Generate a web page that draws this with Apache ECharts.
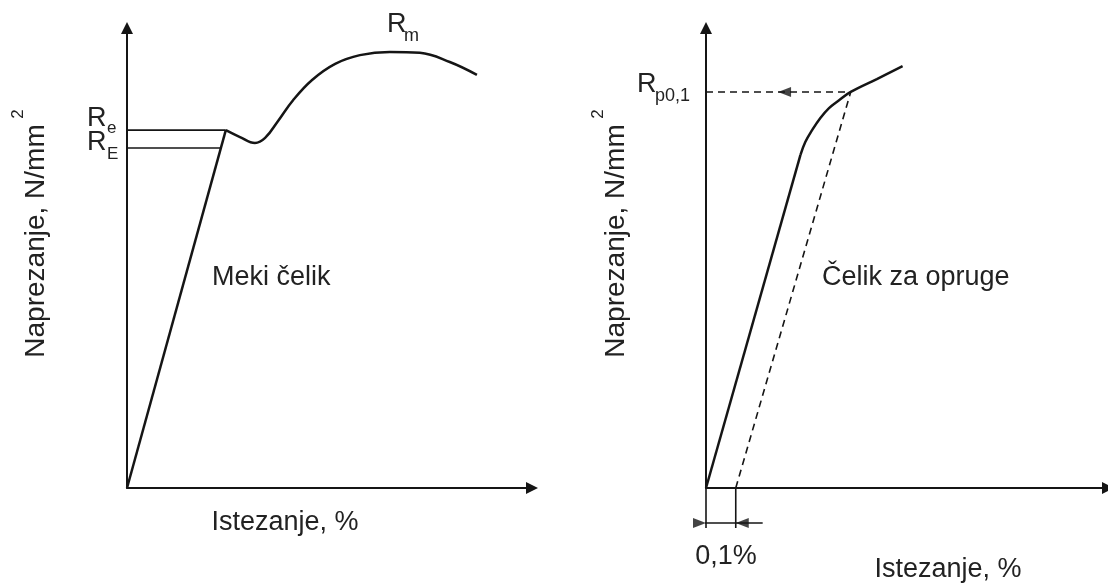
<!DOCTYPE html>
<html>
<head>
<meta charset="utf-8">
<script src="https://cdn.jsdelivr.net/npm/echarts@6/dist/echarts.min.js"></script>
<style>
html,body{margin:0;padding:0;background:#fff;}
#chart{width:1108px;height:588px;}
</style>
</head>
<body>
<div id="chart"></div>
<script>
// ---- Data (arbitrary units: strain 0..100, stress 0..100) ----
const mildElastic = [[0, 0], [24.4, 77.8]];
const mildPlastic = [[24.4, 77.8], [27.9, 76.3], [31.6, 75.0], [34.1, 76.1], [37.3, 79.8], [41.0, 84.3], [45.7, 88.7], [51.4, 92.2], [57.5, 94.1], [64.9, 94.8], [72.3, 94.6], [79.7, 92.6], [86.4, 89.8]];
const mildUpperYield = [[0, 77.8], [24.4, 77.8]];   // Re
const mildLowerYield = [[0, 73.9], [23.2, 73.9]];   // RE

const springElastic = [[0, 0], [23.5, 72.4]];
const springPlastic = [[23.5, 72.4], [24.7, 75.2], [26.4, 77.8], [28.4, 80.4], [30.6, 82.6], [33.1, 84.3], [36.0, 86.1], [42.5, 88.9], [48.9, 91.7]];
const springOffsetLine = [[7.4, 0], [36.0, 86.1]];
const springProofLine = [[0, 86.1], [36.0, 86.1]];  // Rp0,1
const proofArrow = [[18.3, 86.1]];
const dimLeft = [[0, 0], [0, -8.7]];
const dimRight = [[7.4, 0], [7.4, -8.7]];
const dimLine = [[-7.7, -7.6], [14.1, -7.6]];
const dimArrowIn = [[0, -7.6]];
const dimArrowOut = [[7.4, -7.6]];

const labels = {
  yTitle: 'Naprezanje, N/mm',
  xTitle: 'Istezanje, %',
  mild: 'Meki čelik',
  spring: 'Čelik za opruge',
  offset: '0,1%'
};

const FONT = '"Liberation Sans", Arial, sans-serif';
const INK = '#151515';
const TXT = '#222';

const chart = echarts.init(document.getElementById('chart'), null, {renderer: 'canvas'});

function axisX(gi) {
  return {
    type: 'value', gridIndex: gi, min: 0, max: 100,
    axisLine: {show: true, symbol: ['none', 'triangle'], symbolSize: [12, 12], lineStyle: {color: INK, width: 2}},
    axisTick: {show: false}, axisLabel: {show: false}, splitLine: {show: false}
  };
}
function axisY(gi) {
  return {
    type: 'value', gridIndex: gi, min: 0, max: 100,
    axisLine: {show: true, symbol: ['none', 'triangle'], symbolSize: [12, 12], lineStyle: {color: INK, width: 2}},
    axisTick: {show: false}, axisLabel: {show: false}, splitLine: {show: false}
  };
}
function line(data, gi, opts) {
  opts = opts || {};
  return Object.assign({
    type: 'line', xAxisIndex: gi, yAxisIndex: gi, data: data,
    showSymbol: false, symbol: 'none', clip: false, silent: true,
    lineStyle: {color: INK, width: 2.5, type: 'solid'}
  }, opts);
}
function arrow(data, gi, rot, off) {
  return {
    type: 'scatter', xAxisIndex: gi, yAxisIndex: gi, data: data, clip: false, silent: true,
    symbol: 'triangle', symbolSize: [10, 13], symbolRotate: rot, symbolOffset: off,
    itemStyle: {color: INK}
  };
}
function txt(text, x, y, size, opts) {
  opts = opts || {};
  return Object.assign({
    type: 'text', x: x, y: y, silent: true,
    style: {text: text, font: size + 'px ' + FONT, fill: TXT,
      textAlign: opts.align || 'left', textVerticalAlign: 'middle'}
  }, opts.rotation ? {rotation: opts.rotation} : {});
}

chart.setOption({
  animation: false,
  backgroundColor: '#fff',
  grid: [
    {left: 127, top: 28, width: 405, height: 460},
    {left: 706, top: 28, width: 405, height: 460}
  ],
  xAxis: [axisX(0), axisX(1)],
  yAxis: [axisY(0), axisY(1)],
  series: [
    line(mildElastic, 0),
    line(mildPlastic, 0, {smooth: 0.4}),
    line(mildUpperYield, 0, {lineStyle: {color: INK, width: 1.6}}),
    line(mildLowerYield, 0, {lineStyle: {color: INK, width: 1.6}}),
    line(springElastic, 1),
    line(springPlastic, 1, {smooth: 0.4}),
    line(springOffsetLine, 1, {lineStyle: {color: INK, width: 1.6, type: [7, 5]}}),
    line(springProofLine, 1, {lineStyle: {color: INK, width: 1.6, type: [7, 5]}}),
    arrow(proofArrow, 1, 90, [5, 0]),
    line(dimLeft, 1, {lineStyle: {color: INK, width: 1.6}}),
    line(dimRight, 1, {lineStyle: {color: INK, width: 1.6}}),
    line(dimLine, 1, {lineStyle: {color: INK, width: 1.6}}),
    arrow(dimArrowIn, 1, -90, [-6.5, 0]),
    arrow(dimArrowOut, 1, 90, [6.5, 0])
  ],
  graphic: [
    // left chart
    txt('R', 87, 119, 27),
    txt('e', 107, 128, 17),
    txt('R', 87, 143, 27),
    txt('E', 107, 154, 17),
    txt('R', 387, 25, 27),
    txt('m', 404, 36, 18),
    txt(labels.mild, 212, 278, 27),
    txt(labels.xTitle, 285, 523, 27, {align: 'center'}),
    txt(labels.yTitle, 36, 241, 28, {align: 'center', rotation: Math.PI / 2}),
    txt('2', 18, 114, 17, {align: 'center', rotation: Math.PI / 2}),
    // right chart
    txt('R', 637, 85, 27),
    txt('p0,1', 655, 96, 18),
    txt(labels.spring, 822, 278, 27),
    txt(labels.offset, 726, 557, 27, {align: 'center'}),
    txt(labels.xTitle, 948, 570, 27, {align: 'center'}),
    txt(labels.yTitle, 616, 241, 28, {align: 'center', rotation: Math.PI / 2}),
    txt('2', 598, 114, 17, {align: 'center', rotation: Math.PI / 2})
  ]
});
</script>
</body>
</html>
